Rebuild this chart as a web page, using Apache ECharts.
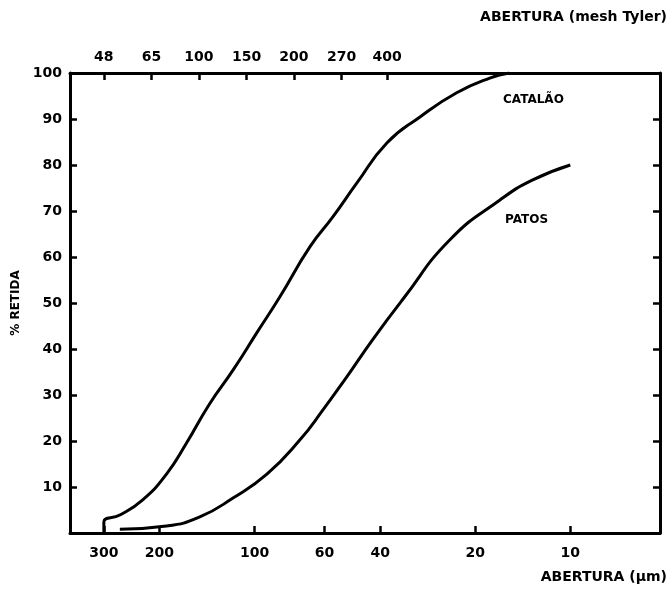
<!DOCTYPE html>
<html>
<head>
<meta charset="utf-8">
<script src="https://cdn.jsdelivr.net/npm/echarts@6/dist/echarts.min.js"></script>
<style>
  html, body { margin: 0; padding: 0; background: #fff; }
  #chart { width: 669px; height: 590px; }
</style>
</head>
<body>
<div id="chart"></div>
<script>
// abertura em micrometros (eixo inferior, escala log) e % retida
var catalaoAbertura = [300, 300, 267, 226, 190, 164, 139, 117, 98.4, 83.2, 66.8, 56.5, 47.4, 38.1, 30, 22.9, 18, 15.6];
var catalaoRetida = [0, 2.4, 3.9, 7.2, 12.8, 19.6, 28.0, 35.4, 43.5, 51.3, 62.2, 68.7, 76.1, 84.8, 90.4, 95.7, 98.9, 100];

var patosAbertura = [267, 190, 149, 117, 91.4, 71.9, 60.8, 51.1, 42.3, 34, 24.1, 16.7, 13.2, 10];
var patosRetida = [0.8, 1.5, 3.5, 7.6, 12.8, 20.2, 26.7, 33.9, 42, 50.7, 63.7, 72.4, 76.7, 80];

// ticks
var aberturaTicks = [300, 200, 100, 60, 40, 20, 10];
var meshLabels = ['48', '65', '100', '150', '200', '270', '400'];
var meshAbertura = [300, 212, 150, 106, 75, 53, 38];
var retidaTicks = [10, 20, 30, 40, 50, 60, 70, 80, 90, 100];
var retidaTicksRight = [10, 20, 30, 40, 50, 60, 70, 80, 90];

var xMin = Math.log10(5.2);
var xMax = Math.log10(384);

var font = 'DejaVu Sans';
var labelStyle = { color: '#000', fontFamily: font, fontWeight: 'bold', fontSize: 14 };

function toPoints(ab, ret) {
    return ab.map(function (a, i) { return [Math.log10(a), ret[i]]; });
}

function nearestMesh(v) {
    var best = 0;
    for (var i = 1; i < meshAbertura.length; i++) {
        if (Math.abs(Math.log10(meshAbertura[i]) - v) < Math.abs(Math.log10(meshAbertura[best]) - v)) best = i;
    }
    return meshLabels[best];
}

var axisLine = { show: true, onZero: false, lineStyle: { color: '#000', width: 3 } };
var tickLine = { color: '#000', width: 2.5 };

var option = {
    animation: false,
    backgroundColor: '#fff',
    grid: { left: 70, right: 9, top: 73, bottom: 57 },
    xAxis: [
        {
            type: 'value', position: 'bottom', inverse: true, min: xMin, max: xMax,
            axisLine: axisLine,
            axisTick: { inside: true, length: 7, customValues: aberturaTicks.map(Math.log10), lineStyle: tickLine },
            axisLabel: Object.assign({
                margin: 13,
                customValues: aberturaTicks.map(Math.log10),
                formatter: function (v) { return String(Math.round(Math.pow(10, v))); }
            }, labelStyle),
            splitLine: { show: false }
        },
        {
            type: 'value', position: 'top', inverse: true, min: xMin, max: xMax,
            axisLine: axisLine,
            axisTick: { inside: true, length: 7, customValues: meshAbertura.map(Math.log10), lineStyle: tickLine },
            axisLabel: Object.assign({
                margin: 9,
                customValues: meshAbertura.map(Math.log10),
                formatter: function (v) { return nearestMesh(v); }
            }, labelStyle),
            splitLine: { show: false }
        }
    ],
    yAxis: [
        {
            type: 'value', position: 'left', min: 0, max: 100,
            name: '% RETIDA', nameLocation: 'middle', nameRotate: 90, nameGap: 40,
            nameTextStyle: { color: '#000', fontFamily: font, fontWeight: 'bold', fontSize: 12 },
            axisLine: axisLine,
            axisTick: { inside: true, length: 7, customValues: retidaTicks, lineStyle: tickLine },
            axisLabel: Object.assign({ margin: 8, customValues: retidaTicks }, labelStyle),
            splitLine: { show: false }
        },
        {
            type: 'value', position: 'right', min: 0, max: 100,
            axisLine: axisLine,
            axisTick: { inside: true, length: 7, customValues: retidaTicksRight, lineStyle: tickLine },
            axisLabel: { show: false },
            splitLine: { show: false }
        }
    ],
    series: [
        {
            name: 'CATALÃO', type: 'line', xAxisIndex: 0, yAxisIndex: 0,
            data: toPoints(catalaoAbertura, catalaoRetida),
            smooth: 0.5, showSymbol: false, symbol: 'none',
            lineStyle: { color: '#000', width: 3 }
        },
        {
            name: 'PATOS', type: 'line', xAxisIndex: 0, yAxisIndex: 0,
            data: toPoints(patosAbertura, patosRetida),
            smooth: 0.5, showSymbol: false, symbol: 'none',
            lineStyle: { color: '#000', width: 3 }
        }
    ],
    graphic: [
        { type: 'text', right: 2, top: 10, style: { text: 'ABERTURA (mesh Tyler)', font: 'bold 14px "DejaVu Sans"', fill: '#000' } },
        { type: 'text', right: 2, top: 570, style: { text: 'ABERTURA (µm)', font: 'bold 14px "DejaVu Sans"', fill: '#000' } },
        { type: 'text', left: 503, top: 94, style: { text: 'CATALÃO', font: 'bold 12px "DejaVu Sans"', fill: '#000' } },
        { type: 'text', left: 505, top: 214, style: { text: 'PATOS', font: 'bold 12px "DejaVu Sans"', fill: '#000' } }
    ]
};

var myChart = echarts.init(document.getElementById('chart'));
myChart.setOption(option);
</script>
</body>
</html>
